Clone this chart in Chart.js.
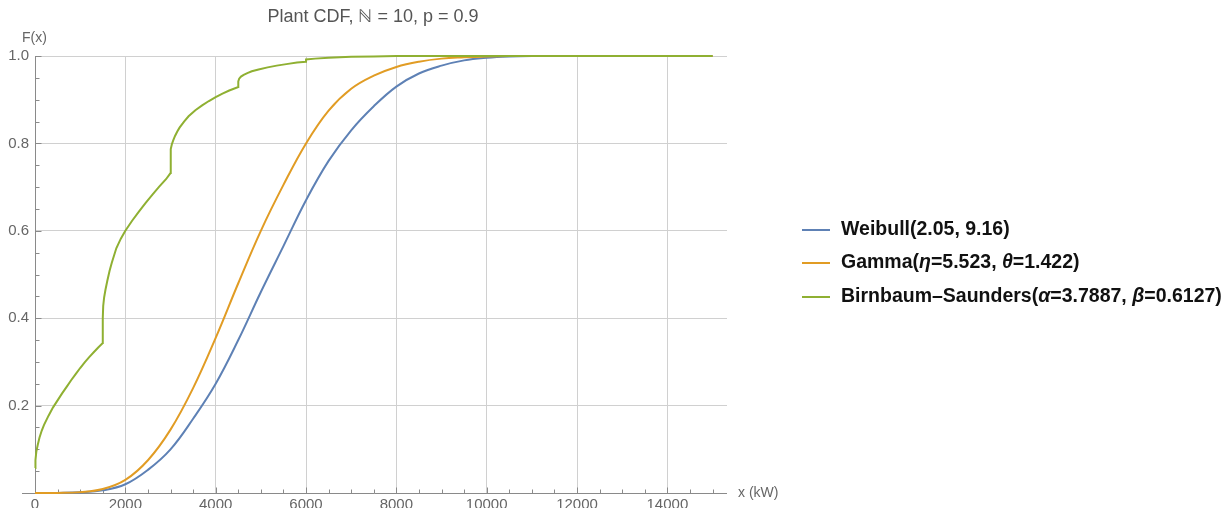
<!DOCTYPE html>
<html>
<head>
<meta charset="utf-8">
<script src="https://cdn.jsdelivr.net/npm/chart.js@4.4.0/dist/chart.umd.min.js"></script>
<style>
  html, body { margin: 0; padding: 0; background: #fff; overflow: hidden; }
  #wrap { position: relative; width: 1231px; height: 508px; overflow: hidden; }
  #cdfChart { position: absolute; left: 0; top: 0; }
  #legend { position: absolute; left: 802px; top: 0; font: bold 19.5px "Liberation Sans", Arial, sans-serif; color: #111; }
  .row { position: absolute; left: 0; white-space: nowrap; height: 22px; line-height: 22px; }
  .swatch { display: inline-block; width: 28px; height: 2px; vertical-align: middle; margin-right: 11px; }
  .row i { font-style: italic; }
</style>
</head>
<body>
<div id="wrap">
  <canvas id="cdfChart" width="1231" height="520"></canvas>
  <div id="legend"></div>
</div>
<script>
// x in kW, F(x)
const kw = [0, 500, 1000, 1500, 2000, 2500, 3000, 3500, 4000, 4500, 5000, 5500, 6000, 6500,
            7000, 7500, 8000, 8500, 9000, 9500, 10000, 10500, 11000, 12000, 13000, 14000, 15000];
const weibullF = [0, 0.0002, 0.0015, 0.006, 0.02, 0.053, 0.1, 0.17, 0.25, 0.35, 0.46, 0.565, 0.67, 0.76,
                  0.83, 0.885, 0.93, 0.96, 0.978, 0.99, 0.996, 0.999, 1.0, 1.0, 1.0, 1.0, 1.0];
const gammaF = [0, 0.0002, 0.002, 0.009, 0.03, 0.075, 0.145, 0.24, 0.355, 0.48, 0.6, 0.705, 0.8, 0.875,
                0.925, 0.955, 0.975, 0.987, 0.994, 0.997, 0.999, 1.0, 1.0, 1.0, 1.0, 1.0, 1.0];

// Birnbaum-Saunders curve has steps, so it gets its own x values
const bsKw = [0, 10, 30, 60, 100, 150, 200, 300, 400, 500, 600, 700, 800, 900, 1000, 1100, 1200, 1300, 1400, 1500,
              1500.5, 1510, 1530, 1560, 1600, 1650, 1700, 1800, 1900, 2000, 2150, 2300, 2450, 2600, 2750, 2900, 3000,
              3000.5, 3010, 3030, 3060, 3100, 3150, 3200, 3300, 3400, 3550, 3700, 3850, 4000, 4150, 4300, 4500,
              4500.5, 4520, 4560, 4620, 4700, 4800, 4950, 5150, 5350, 5600, 5800, 6000,
              6000.5, 6200, 6500, 7000, 7500, 8000, 15000];
const bsF = [0.057, 0.075, 0.095, 0.11, 0.127, 0.143, 0.156, 0.177, 0.196, 0.212, 0.228, 0.243, 0.258, 0.272, 0.286, 0.299, 0.311, 0.322, 0.333, 0.343,
             0.4, 0.428, 0.447, 0.465, 0.485, 0.508, 0.527, 0.56, 0.582, 0.6, 0.623, 0.644, 0.664, 0.683, 0.701, 0.718, 0.732,
             0.775, 0.787, 0.798, 0.807, 0.817, 0.827, 0.836, 0.85, 0.862, 0.876, 0.887, 0.897, 0.906, 0.914, 0.921, 0.929,
             0.942, 0.948, 0.953, 0.957, 0.961, 0.965, 0.969, 0.974, 0.978, 0.982, 0.985, 0.987,
             0.992, 0.994, 0.996, 0.998, 0.999, 1.0, 1.0];

const seriesLabels = ['Weibull(2.05, 9.16)', 'Gamma(η=5.523, θ=1.422)', 'Birnbaum–Saunders(α=3.7887, β=0.6127)'];
const seriesColors = ['#5e81b5', '#e19c24', '#8fb032'];
const chartTitle = 'Plant CDF, ℕ = 10, p = 0.9';

const xMajorTicks = [0, 2000, 4000, 6000, 8000, 10000, 12000, 14000];
const yMajorTicks = [0.2, 0.4, 0.6, 0.8, 1.0];

const xTicks = [];
for (let v = 0; v <= 15000; v += 500) xTicks.push(v);
const yTicks = [];
for (let i = 0; i <= 20; i++) yTicks.push(+(i * 0.05).toFixed(2));

const isXMajor = v => xMajorTicks.includes(v);
const isYMajor = v => yMajorTicks.some(t => Math.abs(t - v) < 1e-6);

const toPoints = (xs, ys) => xs.map((x, i) => ({ x: x, y: ys[i] }));

const fontFamily = '"Liberation Sans", Arial, sans-serif';

// Mathematica style axes: lines through origin, ticks pointing inwards
const mmaAxes = {
  id: 'mmaAxes',
  beforeDatasetsDraw(chart) {
    const { ctx, scales: { x, y } } = chart;
    const x0 = Math.round(x.getPixelForValue(0)) + 0.5;
    const y0 = Math.round(y.getPixelForValue(0)) + 0.5;
    ctx.save();
    ctx.strokeStyle = '#8a8a8a';
    ctx.lineWidth = 1;
    ctx.beginPath();
    ctx.moveTo(x.left - 13, y0);
    ctx.lineTo(x.right, y0);
    ctx.moveTo(x0, y.top);
    ctx.lineTo(x0, y.bottom);
    xTicks.forEach(v => {
      const px = Math.round(x.getPixelForValue(v)) + 0.5;
      ctx.moveTo(px, y0);
      ctx.lineTo(px, y0 - (isXMajor(v) ? 6 : 4));
    });
    yTicks.forEach(v => {
      const py = Math.round(y.getPixelForValue(v)) + 0.5;
      ctx.moveTo(x0, py);
      ctx.lineTo(x0 + (isYMajor(v) ? 6 : 4), py);
    });
    ctx.stroke();
    ctx.restore();
  },
  afterDraw(chart) {
    const { ctx, chartArea, scales: { y } } = chart;
    ctx.save();
    ctx.fillStyle = '#555';
    ctx.font = '18px ' + fontFamily;
    ctx.textBaseline = 'middle';
    ctx.textAlign = 'center';
    ctx.fillText(chartTitle, 373, 17);
    ctx.fillStyle = '#666';
    ctx.font = '14px ' + fontFamily;
    ctx.textAlign = 'left';
    ctx.fillText('F(x)', chartArea.left - 13, chartArea.top - 18);
    ctx.fillText('x (kW)', chartArea.right + 11, y.getPixelForValue(0));
    ctx.restore();
  }
};

const ctx = document.getElementById('cdfChart').getContext('2d');

const cdfChart = new Chart(ctx, {
  type: 'scatter',
  data: {
    datasets: [
      { label: seriesLabels[0], data: toPoints(kw, weibullF), borderColor: seriesColors[0], order: 2, tension: 0.4 },
      { label: seriesLabels[1], data: toPoints(kw, gammaF), borderColor: seriesColors[1], order: 1, tension: 0.4 },
      { label: seriesLabels[2], data: toPoints(bsKw, bsF), borderColor: seriesColors[2], order: 0, tension: 0 }
    ]
  },
  options: {
    responsive: false,
    animation: false,
    layout: { padding: { left: 4, right: 504, top: 56, bottom: 0 } },
    datasets: {
      scatter: {
        showLine: true,
        pointRadius: 0,
        borderWidth: 2,
        clip: false
      }
    },
    plugins: {
      legend: { display: false },
      tooltip: { enabled: false },
      title: { display: false }
    },
    scales: {
      x: {
        type: 'linear',
        min: 0,
        max: 15320,
        afterBuildTicks: s => { s.ticks = xTicks.map(v => ({ value: v })); },
        afterFit: s => { s.height = 27; },
        border: { display: false },
        grid: {
          drawTicks: false,
          color: c => (c.tick && isXMajor(c.tick.value) && c.tick.value > 0) ? '#d0d0d0' : 'rgba(0,0,0,0)'
        },
        ticks: {
          autoSkip: false,
          maxRotation: 0,
          padding: 3,
          color: '#666',
          font: { family: fontFamily, size: 15 },
          callback: v => isXMajor(v) ? String(v) : ''
        }
      },
      y: {
        min: 0,
        max: 1,
        afterBuildTicks: s => { s.ticks = yTicks.map(v => ({ value: v })); },
        afterFit: s => { s.width = 31; },
        border: { display: false },
        grid: {
          drawTicks: false,
          color: c => (c.tick && isYMajor(c.tick.value)) ? '#d0d0d0' : 'rgba(0,0,0,0)'
        },
        ticks: {
          autoSkip: false,
          padding: 6,
          color: '#666',
          font: { family: fontFamily, size: 15 },
          callback: v => isYMajor(v) ? v.toFixed(1) : ''
        }
      }
    }
  },
  plugins: [mmaAxes]
});

// legend as html so the greek letters can be italic
const rowCenters = [228, 261, 295];
document.getElementById('legend').innerHTML = seriesLabels.map((lab, i) =>
  '<div class="row" style="top:' + (rowCenters[i] - 11) + 'px">' +
  '<span class="swatch" style="background:' + seriesColors[i] + '"></span>' +
  lab.replace(/([ηθαβ])/g, '<i>$1</i>') + '</div>'
).join('');
</script>
</body>
</html>
